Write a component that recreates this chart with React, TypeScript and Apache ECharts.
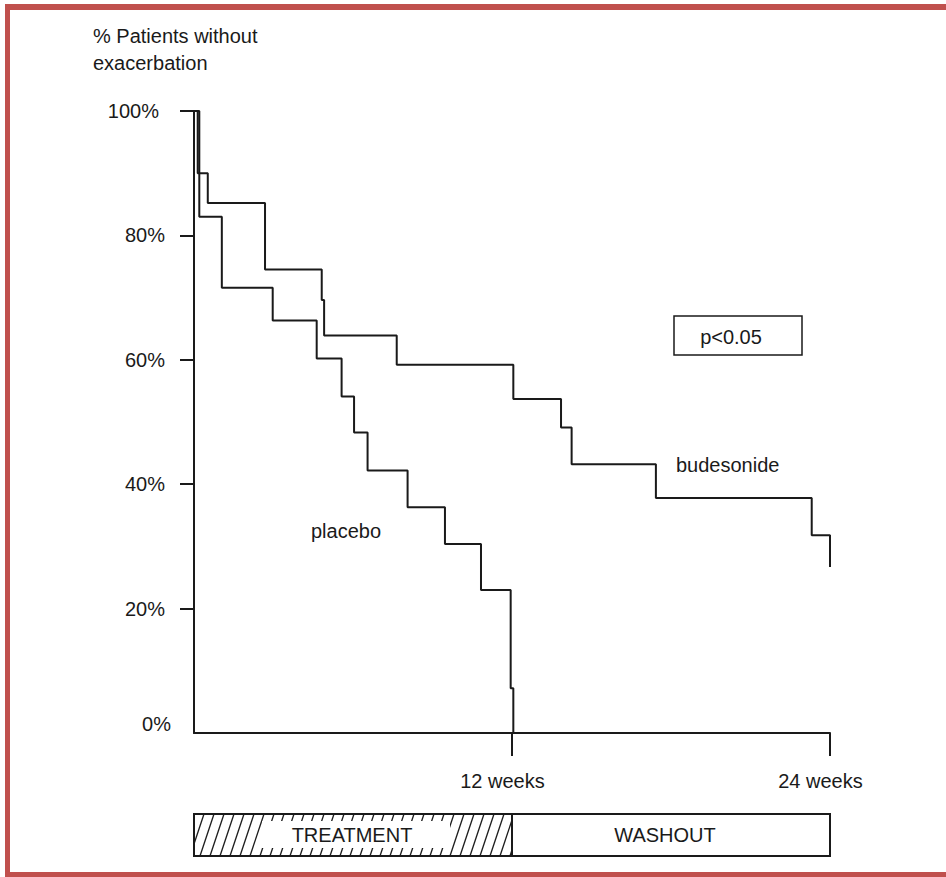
import React, { useEffect, useRef } from "react";
import * as echarts from "echarts";

// Kaplan-Meier style step data (weeks, % patients without exacerbation)
const budesonideWeeks = [0, 0.14, 0.52, 2.68, 4.82, 4.91, 7.65, 12.05, 13.85, 14.25, 17.43, 23.31, 24.0];
const budesonidePct = [100, 90.0, 85.2, 74.5, 69.6, 63.9, 59.2, 53.7, 49.1, 43.2, 37.8, 31.8, 26.7];
const placeboWeeks = [0, 0.2, 1.05, 2.97, 4.63, 5.57, 6.04, 6.55, 8.06, 9.47, 10.83, 11.95, 12.05];
const placeboPct = [100, 83.0, 71.6, 66.3, 60.2, 54.1, 48.3, 42.2, 36.3, 30.4, 23.0, 7.2, 0];

const yTicks = [20, 40, 60, 80, 100];
const yLabels = [0, 20, 40, 60, 80, 100];
const xTicks = [12, 24];
const phases = [
  { name: "TREATMENT", from: 0, to: 12 },
  { name: "WASHOUT", from: 12, to: 24 },
];

const FONT = "'Liberation Sans', Arial, Helvetica, sans-serif";
const INK = "#1a1a1a";
const RED = "#c0504d";

export default function App() {
  const ref = useRef<HTMLDivElement>(null);

  useEffect(() => {
    if (!ref.current) return;
    const chart = echarts.init(ref.current, null, { renderer: "svg" });

    const budData = budesonideWeeks.map((w, i) => [w, budesonidePct[i]]);
    const plaData = placeboWeeks.map((w, i) => [w, placeboPct[i]]);

    chart.setOption({
      animation: false,
      backgroundColor: "#ffffff",
      title: {
        text: "% Patients without\nexacerbation",
        left: 88,
        top: 17,
        textStyle: {
          fontFamily: FONT,
          fontSize: 20,
          fontWeight: "normal",
          color: INK,
          lineHeight: 27,
        },
      },
      grid: { left: 194, right: 116, top: 111, bottom: 144 },
      xAxis: {
        type: "value",
        min: 0,
        max: 24,
        interval: 12,
        axisLine: { show: true, lineStyle: { color: INK, width: 2 } },
        axisTick: {
          show: true,
          customValues: xTicks,
          length: 23,
          lineStyle: { color: INK, width: 2 },
        },
        axisLabel: {
          customValues: xTicks,
          margin: 38,
          formatter: (v: number) => "{w|" + v + " weeks}",
          rich: {
            w: { fontFamily: FONT, fontSize: 20, color: INK, padding: [0, 19, 0, 0] },
          },
        },
        splitLine: { show: false },
      },
      yAxis: {
        type: "value",
        min: 0,
        max: 100,
        interval: 20,
        axisLine: { show: true, lineStyle: { color: INK, width: 2 } },
        axisTick: {
          show: true,
          customValues: yTicks,
          length: 14,
          lineStyle: { color: INK, width: 2 },
        },
        axisLabel: {
          customValues: yLabels,
          margin: 23,
          formatter: (v: number) =>
            v === 0 ? "{z|0%}" : v === 100 ? "{h|100%}" : "{n|" + v + "%}",
          rich: {
            z: { fontFamily: FONT, fontSize: 20, color: INK, padding: [0, 0, 18, 0] },
            h: { fontFamily: FONT, fontSize: 20, color: INK, padding: [0, 12, 0, 0] },
            n: { fontFamily: FONT, fontSize: 20, color: INK, padding: [0, 6, 0, 0] },
          },
        },
        splitLine: { show: false },
      },
      series: [
        {
          name: "budesonide",
          type: "line",
          step: "end",
          data: budData,
          showSymbol: false,
          clip: false,
          lineStyle: { color: INK, width: 2 },
        },
        {
          name: "placebo",
          type: "line",
          step: "end",
          data: plaData,
          showSymbol: false,
          clip: false,
          lineStyle: { color: INK, width: 2 },
        },
      ],
    });

    // Phase bar below the x-axis, aligned to the x scale
    const px = (v: number) => chart.convertToPixel({ xAxisIndex: 0 }, v) as number;
    const barTop = 814;
    const barBottom = 856;
    const barH = barBottom - barTop;

    const phaseEls: any[] = [];
    const tx0 = px(phases[0].from);
    const tx1 = px(phases[0].to);
    const slant = 14;
    for (let b = tx0 - slant; b < tx1; b += 10) {
      let xA = b, yA = barBottom, xB = b + slant, yB = barTop;
      if (xA < tx0) {
        yA = barBottom - ((tx0 - xA) / slant) * barH;
        xA = tx0;
      }
      if (xB > tx1) {
        yB = barBottom - ((tx1 - b) / slant) * barH;
        xB = tx1;
      }
      phaseEls.push({
        type: "line",
        shape: { x1: xA, y1: yA, x2: xB, y2: yB },
        style: { stroke: INK, lineWidth: 1.3 },
        silent: true,
      });
    }
    phaseEls.push({
      type: "rect",
      shape: { x: tx0 + 68, y: barTop + 7, width: tx1 - tx0 - 68 - 62, height: barH - 15 },
      style: { fill: "#ffffff" },
      silent: true,
    });
    phases.forEach((p) => {
      const a = px(p.from);
      const b = px(p.to);
      phaseEls.push({
        type: "rect",
        shape: { x: a, y: barTop, width: b - a, height: barH },
        style: { fill: "none", stroke: INK, lineWidth: 2 },
        silent: true,
      });
    });
    phaseEls.push({
      type: "text",
      x: (tx0 + tx1) / 2 - 1,
      y: (barTop + barBottom) / 2,
      style: {
        text: phases[0].name,
        fontFamily: FONT,
        fontSize: 20,
        fill: INK,
        align: "center",
        verticalAlign: "middle",
      },
      silent: true,
    });
    phaseEls.push({
      type: "text",
      x: (px(phases[1].from) + px(phases[1].to)) / 2 - 6,
      y: (barTop + barBottom) / 2,
      style: {
        text: phases[1].name,
        fontFamily: FONT,
        fontSize: 20,
        fill: INK,
        align: "center",
        verticalAlign: "middle",
      },
      silent: true,
    });

    chart.setOption({
      graphic: [
        { type: "rect", shape: { x: 5, y: 4, width: 941, height: 6 }, style: { fill: RED }, silent: true },
        { type: "rect", shape: { x: 5, y: 4, width: 5, height: 873 }, style: { fill: RED }, silent: true },
        { type: "rect", shape: { x: 5, y: 872, width: 941, height: 5 }, style: { fill: RED }, silent: true },
        {
          type: "rect",
          shape: { x: 674, y: 316, width: 128, height: 39 },
          style: { fill: "none", stroke: INK, lineWidth: 1.5 },
          silent: true,
        },
        {
          type: "text",
          x: 731,
          y: 337,
          style: {
            text: "p<0.05",
            fontFamily: FONT,
            fontSize: 20,
            fill: INK,
            align: "center",
            verticalAlign: "middle",
          },
          silent: true,
        },
        {
          type: "text",
          x: 676,
          y: 465,
          style: {
            text: "budesonide",
            fontFamily: FONT,
            fontSize: 20,
            fill: INK,
            align: "left",
            verticalAlign: "middle",
          },
          silent: true,
        },
        {
          type: "text",
          x: 311,
          y: 531,
          style: {
            text: "placebo",
            fontFamily: FONT,
            fontSize: 20,
            fill: INK,
            align: "left",
            verticalAlign: "middle",
          },
          silent: true,
        },
        ...phaseEls,
      ],
    });

    return () => chart.dispose();
  }, []);

  return (
    <div
      ref={ref}
      style={{ position: "absolute", left: 0, top: 0, width: 946, height: 877, background: "#fff" }}
    />
  );
}
